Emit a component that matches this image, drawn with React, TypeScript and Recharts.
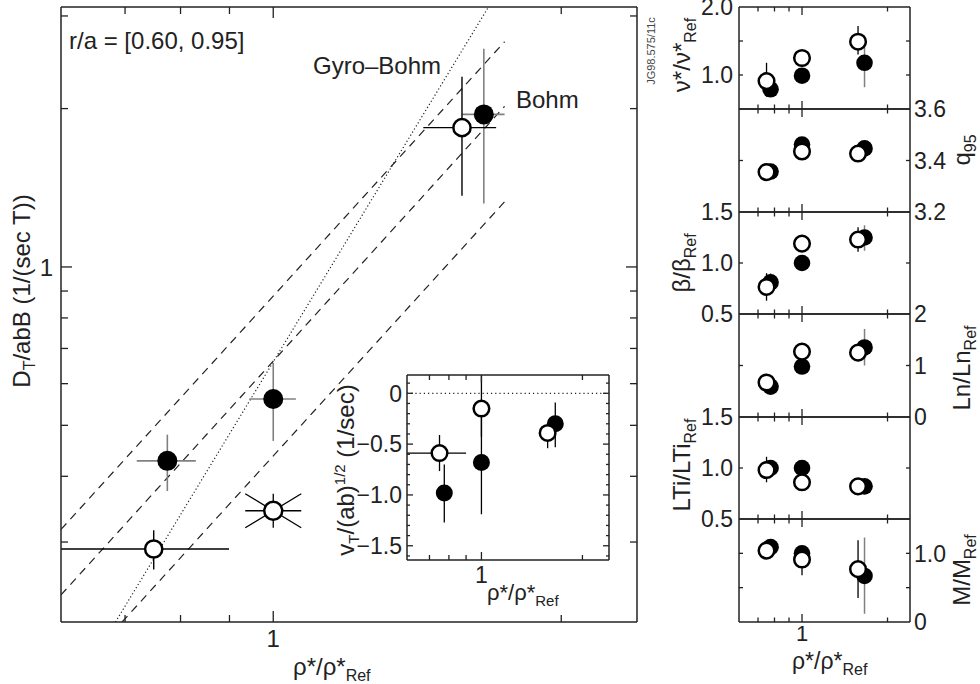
import React from 'react'
import { ComposedChart, Scatter, XAxis, YAxis, ErrorBar, ReferenceLine } from 'recharts'

document.body.style.margin = '0'

const FONT = '"Liberation Sans", Arial, Helvetica, sans-serif'
const INK = '#222'
const GREY = '#808080'

// rho*/rho*_Ref of the three discharges (open / filled pairs)
const rhoOpen = [0.75, 1.0, 1.575]
const rhoFilled = [0.775, 1.0, 1.66]
const rhoDomain = [0.6, 2.4]
const rhoTicks = [0.7, 0.8, 0.9, 1, 2]

// main panel: D_T/abB
const dDomain = [0.2114, 3.12]
const dTicks = [0.3, 0.4, 0.5, 0.6, 0.7, 0.8, 0.9, 1, 2, 3]
const dFilled = [0.428, 0.561, 1.95]
const dFilledLo = [0.375, 0.467, 1.32]
const dFilledHi = [0.48, 0.657, 2.6]
const dFilledXLo = [0.72, 0.944, 1.575]
const dFilledXHi = [0.83, 1.056, 1.745]
const dOpen = [0.291, 0.344, 1.84]
const dOpenLo = [0.266, null, 1.365]
const dOpenHi = [0.316, null, 2.3]
const dOpenXLo = [0.6, null, 1.435]
const dOpenXHi = [0.899, null, 1.71]
const dOpenMarker = ['circle', 'star', 'circle']

// scaling lines (end points)
const bohmLines = [
  { x1: 0.6, y1: 0.317, x2: 1.745, y2: 2.68 },
  { x1: 0.6, y1: 0.238, x2: 1.745, y2: 2.02 },
  { x1: 0.695, y1: 0.2114, x2: 1.745, y2: 1.33 },
]
const gyroBohmLine = { x1: 0.684, y1: 0.2114, x2: 1.675, y2: 3.1 }

// inset: v_T/(ab)^1/2
const vDomain = [-1.64, 0.18]
const vTicks = [-1.6, -1.5, -1.4, -1.3, -1.2, -1.1, -1.0, -0.9, -0.8, -0.7, -0.6, -0.5, -0.4, -0.3, -0.2, -0.1, 0, 0.1]
const vLabels: Record<string, string> = { '0': '0', '-0.5': '\u22120.5', '-1': '\u22121.0', '-1.5': '\u22121.5' }
const vFilled = [-0.98, -0.68, -0.3]
const vFilledLo = [-1.27, -1.19, -0.53]
const vFilledHi = [-0.7, -0.17, -0.09]
const vOpen = [-0.588, -0.15, -0.39]
const vOpenLo = [-0.765, -0.43, -0.54]
const vOpenHi = [-0.41, 0.17, -0.3]
const vOpenXLo = [0.6, null, null]
const vOpenXHi = [0.9, null, null]

// right column
const nuFilled = [0.79, 0.99, 1.18]
const nuFilledLo = [null, null, 0.82]
const nuFilledHi = [null, null, 1.42]
const nuOpen = [0.91, 1.25, 1.49]
const nuOpenLo = [0.68, null, 1.3]
const nuOpenHi = [1.18, null, 1.72]

const qFilled = [3.357, 3.462, 3.447]
const qOpen = [3.355, 3.435, 3.427]

const betaFilled = [0.81, 1.0, 1.25]
const betaFilledLo = [0.7, null, 1.12]
const betaFilledHi = [0.9, null, 1.37]
const betaOpen = [0.765, 1.19, 1.23]
const betaOpenLo = [0.63, null, 1.11]
const betaOpenHi = [0.9, null, 1.35]

const lnFilled = [0.59, 0.98, 1.35]
const lnFilledLo = [null, null, 1.0]
const lnFilledHi = [null, null, 1.71]
const lnOpen = [0.67, 1.27, 1.25]

const ltiFilled = [1.0, 1.0, 0.82]
const ltiOpen = [0.98, 0.86, 0.82]
const ltiOpenLo = [0.86, null, null]
const ltiOpenHi = [1.11, null, null]

const mFilled = [1.09, 1.0, 0.67]
const mFilledLo = [null, null, 0.12]
const mFilledHi = [null, null, 1.23]
const mOpen = [1.04, 0.91, 0.77]
const mOpenLo = [null, 0.68, 0.35]
const mOpenHi = [null, 1.0, 1.19]

type Bound = (number | null)[] | undefined

const toRows = (xs: number[], ys: number[], lo?: Bound, hi?: Bound, xlo?: Bound, xhi?: Bound) =>
  xs.map((x, i) => {
    const y = ys[i]
    const l = lo?.[i] ?? y
    const h = hi?.[i] ?? y
    const xl = xlo?.[i] ?? x
    const xh = xhi?.[i] ?? x
    return { x, y, ey: [y - l, h - y], ex: [x - xl, xh - x] }
  })

type Side = 'top' | 'bottom' | 'left' | 'right'

const makeTick = (side: Side, lenOf: (v: number) => number, labelOf: (v: number) => string | null, fontSize = 23, gap = 6) =>
  (props: any) => {
    const { x, y, payload } = props
    const v = payload.value
    const len = lenOf(v)
    const label = labelOf(v)
    const dx = side === 'left' ? len : side === 'right' ? -len : 0
    const dy = side === 'top' ? len : side === 'bottom' ? -len : 0
    const common = { fontSize, fontFamily: FONT, fill: INK }
    let text = null
    if (label != null) {
      if (side === 'bottom') text = <text x={x} y={y + gap + fontSize * 0.72} textAnchor="middle" {...common}>{label}</text>
      if (side === 'left') text = <text x={x - gap} y={y + fontSize * 0.36} textAnchor="end" {...common}>{label}</text>
      if (side === 'right') text = <text x={x + gap} y={y + fontSize * 0.36} textAnchor="start" {...common}>{label}</text>
    }
    return (
      <g>
        {len > 0 && <line x1={x} y1={y} x2={x + dx} y2={y + dy} stroke={INK} strokeWidth={1.3} />}
        {text}
      </g>
    )
  }

const none = () => null
const axisLine = { stroke: INK, strokeWidth: 1.5 }

const filledDot = (r: number) => (p: any) => <circle cx={p.cx} cy={p.cy} r={r} fill="#000" />
const openDot = (r: number) => (p: any) => (
  <circle cx={p.cx} cy={p.cy} r={r} fill="#fff" stroke="#000" strokeWidth={2.5} />
)
const mainOpenShape = (p: any) => {
  if (p.payload && p.payload.marker === 'star') {
    const { cx, cy } = p
    const w = 28
    const h = 17
    return (
      <g stroke="#000" strokeWidth={1.3}>
        <line x1={cx - w} y1={cy} x2={cx + w} y2={cy} />
        <line x1={cx} y1={cy - h} x2={cx} y2={cy + h} />
        <line x1={cx - w} y1={cy - h} x2={cx + w} y2={cy + h} />
        <line x1={cx - w} y1={cy + h} x2={cx + w} y2={cy - h} />
        <circle cx={cx} cy={cy} r={9} fill="#fff" stroke="#000" strokeWidth={2.5} />
      </g>
    )
  }
  return openDot(8.6)(p)
}

const xAxes = (labelBottom: boolean, lenOf: (v: number) => number, fs = 23, gap = 6) => [
  <XAxis key="xb" xAxisId="b" orientation="bottom" dataKey="x" type="number" scale="log" domain={rhoDomain}
    allowDataOverflow ticks={rhoTicks} interval={0} height={1} tickSize={0} tickMargin={0} tickLine={false}
    axisLine={axisLine} tick={makeTick('bottom', lenOf, labelBottom ? (v) => (v === 1 ? '1' : null) : none, fs, gap)} />,
  <XAxis key="xt" xAxisId="t" orientation="top" dataKey="x" type="number" scale="log" domain={rhoDomain}
    allowDataOverflow ticks={rhoTicks} interval={0} height={1} tickSize={0} tickMargin={0} tickLine={false}
    axisLine={axisLine} tick={makeTick('top', lenOf, none)} />,
]

const MainChart = () => {
  const filled = toRows(rhoFilled, dFilled, dFilledLo, dFilledHi, dFilledXLo, dFilledXHi)
  const open = toRows(rhoOpen, dOpen, dOpenLo, dOpenHi, dOpenXLo, dOpenXHi).map((r, i) => ({ ...r, marker: dOpenMarker[i] }))
  const len = (v: number) => (v === 1 ? 11 : 7)
  return (
    <ComposedChart width={660} height={684} margin={{ top: 6, right: 22, bottom: 61, left: 60 }}>
      {xAxes(true, len, 24, 8)}
      <YAxis yAxisId="l" orientation="left" dataKey="y" type="number" scale="log" domain={dDomain} allowDataOverflow
        ticks={dTicks} interval={0} width={1} tickSize={0} tickMargin={0} tickLine={false} axisLine={axisLine}
        tick={makeTick('left', len, (v) => (v === 1 ? '1' : null), 24, 8)} />
      <YAxis yAxisId="r" orientation="right" dataKey="y" type="number" scale="log" domain={dDomain} allowDataOverflow
        ticks={dTicks} interval={0} width={1} tickSize={0} tickMargin={0} tickLine={false} axisLine={axisLine}
        tick={makeTick('right', len, none)} />
      {bohmLines.map((l, i) => (
        <ReferenceLine key={i} xAxisId="b" yAxisId="l" ifOverflow="hidden"
          segment={[{ x: l.x1, y: l.y1 }, { x: l.x2, y: l.y2 }]} stroke={INK} strokeWidth={1.2} strokeDasharray="8 6" />
      ))}
      <ReferenceLine xAxisId="b" yAxisId="l" ifOverflow="hidden"
        segment={[{ x: gyroBohmLine.x1, y: gyroBohmLine.y1 }, { x: gyroBohmLine.x2, y: gyroBohmLine.y2 }]}
        stroke={INK} strokeWidth={1.2} strokeDasharray="1.2 2.4" />
      <Scatter xAxisId="b" yAxisId="l" data={filled} dataKey="y" isAnimationActive={false} shape={filledDot(10)}>
        <ErrorBar dataKey="ey" direction="y" width={0} stroke={GREY} strokeWidth={1.6} />
        <ErrorBar dataKey="ex" direction="x" width={0} stroke={GREY} strokeWidth={1.6} />
      </Scatter>
      <Scatter xAxisId="b" yAxisId="l" data={open} dataKey="y" isAnimationActive={false} shape={mainOpenShape}>
        <ErrorBar dataKey="ey" direction="y" width={0} stroke="#000" strokeWidth={1.4} />
        <ErrorBar dataKey="ex" direction="x" width={0} stroke="#000" strokeWidth={1.4} />
      </Scatter>
    </ComposedChart>
  )
}

const InsetChart = () => {
  const filled = toRows(rhoFilled, vFilled, vFilledLo, vFilledHi)
  const open = toRows(rhoOpen, vOpen, vOpenLo, vOpenHi, vOpenXLo, vOpenXHi)
  const xlen = (v: number) => (v === 1 ? 8 : 5)
  const ylen = (v: number) => (vLabels[String(v)] ? 6 : 3)
  const ylab = (v: number) => vLabels[String(v)] ?? null
  return (
    <ComposedChart width={300} height={260} margin={{ top: 14, right: 20, bottom: 59, left: 76 }}>
      {xAxes(true, xlen, 23, 6)}
      <YAxis yAxisId="l" orientation="left" dataKey="y" type="number" domain={vDomain} allowDataOverflow
        ticks={vTicks} interval={0} width={1} tickSize={0} tickMargin={0} tickLine={false} axisLine={axisLine}
        tick={makeTick('left', ylen, ylab, 23, 5)} />
      <YAxis yAxisId="r" orientation="right" dataKey="y" type="number" domain={vDomain} allowDataOverflow
        ticks={vTicks} interval={0} width={1} tickSize={0} tickMargin={0} tickLine={false} axisLine={axisLine}
        tick={makeTick('right', ylen, none)} />
      <ReferenceLine xAxisId="b" yAxisId="l" y={0} stroke={INK} strokeWidth={1.2} strokeDasharray="1.2 3" />
      <Scatter xAxisId="b" yAxisId="l" data={filled} dataKey="y" isAnimationActive={false} shape={filledDot(8.5)}>
        <ErrorBar dataKey="ey" direction="y" width={0} stroke="#000" strokeWidth={1.3} />
      </Scatter>
      <Scatter xAxisId="b" yAxisId="l" data={open} dataKey="y" isAnimationActive={false} shape={openDot(7.8)}>
        <ErrorBar dataKey="ey" direction="y" width={0} stroke="#000" strokeWidth={1.3} />
        <ErrorBar dataKey="ex" direction="x" width={0} stroke="#000" strokeWidth={1.3} />
      </Scatter>
    </ComposedChart>
  )
}

type PanelCfg = {
  top: number
  bottom: number
  domain: number[]
  ticks: number[]
  leftLabels: Record<string, string>
  rightLabels: Record<string, string>
  filled: any[]
  open: any[]
}

const panels: PanelCfg[] = [
  {
    top: 7, bottom: 109, domain: [0.5, 2.0], ticks: [1.0, 1.5, 2.0],
    leftLabels: { '2': '2.0', '1': '1.0' }, rightLabels: {},
    filled: toRows(rhoFilled, nuFilled, nuFilledLo, nuFilledHi),
    open: toRows(rhoOpen, nuOpen, nuOpenLo, nuOpenHi),
  },
  {
    top: 109, bottom: 212, domain: [3.2, 3.6], ticks: [3.2, 3.4, 3.6],
    leftLabels: {}, rightLabels: { '3.6': '3.6', '3.4': '3.4', '3.2': '3.2' },
    filled: toRows(rhoFilled, qFilled), open: toRows(rhoOpen, qOpen),
  },
  {
    top: 212, bottom: 314, domain: [0.5, 1.5], ticks: [0.5, 1.0, 1.5],
    leftLabels: { '1.5': '1.5', '1': '1.0', '0.5': '0.5' }, rightLabels: {},
    filled: toRows(rhoFilled, betaFilled, betaFilledLo, betaFilledHi),
    open: toRows(rhoOpen, betaOpen, betaOpenLo, betaOpenHi),
  },
  {
    top: 314, bottom: 417, domain: [0, 2], ticks: [0, 1, 2],
    leftLabels: {}, rightLabels: { '2': '2', '1': '1', '0': '0' },
    filled: toRows(rhoFilled, lnFilled, lnFilledLo, lnFilledHi), open: toRows(rhoOpen, lnOpen),
  },
  {
    top: 417, bottom: 519, domain: [0.5, 1.5], ticks: [0.5, 1.0, 1.5],
    leftLabels: { '1.5': '1.5', '1': '1.0', '0.5': '0.5' }, rightLabels: {},
    filled: toRows(rhoFilled, ltiFilled), open: toRows(rhoOpen, ltiOpen, ltiOpenLo, ltiOpenHi),
  },
  {
    top: 519, bottom: 622, domain: [0, 1.5], ticks: [0, 0.5, 1.0, 1.5],
    leftLabels: {}, rightLabels: { '1': '1.0', '0': '0' },
    filled: toRows(rhoFilled, mFilled, mFilledLo, mFilledHi),
    open: toRows(rhoOpen, mOpen, mOpenLo, mOpenHi),
  },
]

const PAD = 20

const Panel = ({ cfg, last }: { cfg: PanelCfg; last: boolean }) => {
  const bottomPad = last ? 60 : PAD
  const h = cfg.bottom - cfg.top + PAD + bottomPad
  const [lo, hi] = cfg.domain
  const inner = (v: number) => (v > lo && v < hi ? 4 : 0)
  const xlen = (v: number) => (v === 1 ? 8 : 4.5)
  return (
    <div style={{ position: 'absolute', left: 660, top: cfg.top - PAD }}>
      <ComposedChart width={320} height={h} margin={{ top: PAD - 1, right: 69, bottom: bottomPad - 1, left: 78 }}>
        {xAxes(last, xlen, 22, 3)}
        <YAxis yAxisId="l" orientation="left" dataKey="y" type="number" domain={cfg.domain} allowDataOverflow
          ticks={cfg.ticks} interval={0} width={1} tickSize={0} tickMargin={0} tickLine={false} axisLine={axisLine}
          tick={makeTick('left', inner, (v) => cfg.leftLabels[String(v)] ?? null, 23, 6)} />
        <YAxis yAxisId="r" orientation="right" dataKey="y" type="number" domain={cfg.domain} allowDataOverflow
          ticks={cfg.ticks} interval={0} width={1} tickSize={0} tickMargin={0} tickLine={false} axisLine={axisLine}
          tick={makeTick('right', inner, (v) => cfg.rightLabels[String(v)] ?? null, 23, 4)} />
        <Scatter xAxisId="b" yAxisId="l" data={cfg.filled} dataKey="y" isAnimationActive={false} shape={filledDot(8.3)}>
          <ErrorBar dataKey="ey" direction="y" width={0} stroke={GREY} strokeWidth={1.5} />
        </Scatter>
        <Scatter xAxisId="b" yAxisId="l" data={cfg.open} dataKey="y" isAnimationActive={false} shape={openDot(7.8)}>
          <ErrorBar dataKey="ey" direction="y" width={0} stroke="#000" strokeWidth={1.3} />
        </Scatter>
      </ComposedChart>
    </div>
  )
}

const T = (props: any) => <text fontFamily={FONT} fill={INK} fontSize={24} {...props} />

const Labels = () => (
  <svg width={980} height={684} style={{ position: 'absolute', left: 0, top: 0, pointerEvents: 'none' }}>
    <T x={69} y={49}>r/a = [0.60, 0.95]</T>
    <T x={313} y={74}>Gyro–Bohm</T>
    <T x={516} y={108}>Bohm</T>
    <T transform="translate(30,291) rotate(-90)" textAnchor="middle">
      D<tspan fontSize={16} dy={5}>T</tspan><tspan dy={-5}>/abB (1/(sec T))</tspan>
    </T>
    <T x={293} y={675}>ρ*/ρ*<tspan fontSize={16} dy={6}>Ref</tspan></T>
    <T transform="translate(354,470) rotate(-90)" textAnchor="middle">
      v<tspan fontSize={15} dy={5}>T</tspan><tspan dy={-5}>/(ab)</tspan><tspan fontSize={15} dy={-9}>1/2</tspan><tspan dy={9}> (1/sec)</tspan>
    </T>
    <T x={487} y={600} fontSize={22}>ρ*/ρ*<tspan fontSize={15} dy={6}>Ref</tspan></T>
    <T transform="translate(655,51) rotate(-90)" textAnchor="middle" fontSize={11} fill="#444">JG98.575/11c</T>
    <T transform="translate(690,55) rotate(-90)" textAnchor="middle">ν*/ν*<tspan fontSize={16} dy={6}>Ref</tspan></T>
    <T transform="translate(690,263) rotate(-90)" textAnchor="middle">β/β<tspan fontSize={16} dy={6}>Ref</tspan></T>
    <T transform="translate(690,465) rotate(-90)" textAnchor="middle">LTi/LTi<tspan fontSize={16} dy={6}>Ref</tspan></T>
    <T transform="translate(970,150) rotate(-90)" textAnchor="middle">q<tspan fontSize={16} dy={6}>95</tspan></T>
    <T transform="translate(970,368) rotate(-90)" textAnchor="middle">Ln/Ln<tspan fontSize={16} dy={6}>Ref</tspan></T>
    <T transform="translate(970,570) rotate(-90)" textAnchor="middle">M/M<tspan fontSize={16} dy={6}>Ref</tspan></T>
    <T x={792} y={669} fontSize={23}>ρ*/ρ*<tspan fontSize={16} dy={6}>Ref</tspan></T>
  </svg>
)

export default function App() {
  return (
    <div style={{ position: 'relative', width: 980, height: 684, overflow: 'hidden', background: '#fff', fontFamily: FONT }}>
      <div style={{ position: 'absolute', left: 0, top: 0 }}>
        <MainChart />
      </div>
      <div style={{ position: 'absolute', left: 330, top: 360 }}>
        <InsetChart />
      </div>
      {panels.map((p, i) => (
        <Panel key={i} cfg={p} last={i === panels.length - 1} />
      ))}
      <Labels />
    </div>
  )
}
